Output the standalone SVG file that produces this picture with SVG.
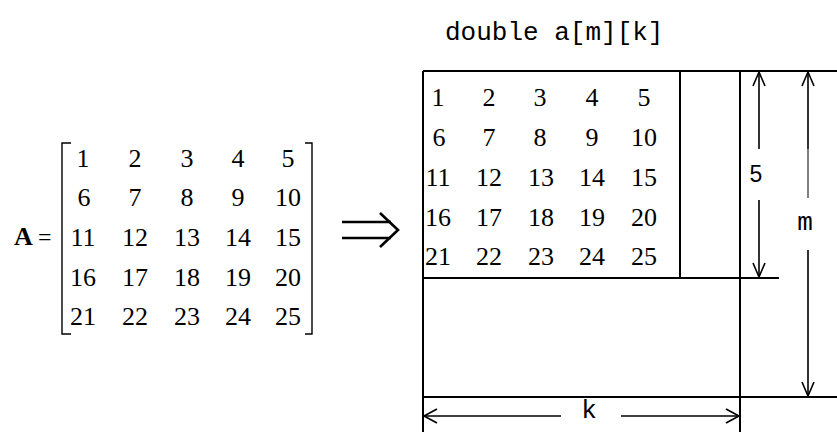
<svg xmlns="http://www.w3.org/2000/svg" width="837" height="432" viewBox="0 0 837 432">
  <style>
    .num { font-family: "Liberation Serif", "Times New Roman", serif; font-size: 26px; fill: #000; text-anchor: middle; }
    .mono { font-family: "Liberation Mono", "Courier New", monospace; font-size: 26px; fill: #000; }
    .sans { font-family: "Liberation Sans", Arial, sans-serif; font-size: 23px; fill: #000; }
    .ln { stroke: #000; stroke-width: 2; fill: none; }
    .dim { stroke: #000; stroke-width: 1.6; fill: none; }
    .thin { stroke: #000; stroke-width: 1; fill: none; }
    .brk { stroke: #000; stroke-width: 1.4; fill: none; }
  </style>
  <rect width="837" height="432" fill="#fff"/>

  <!-- Matrix A in bracket notation -->
  <g id="matrix-A">
    <text x="14" y="245" font-family="Liberation Serif, serif" font-size="26" font-weight="bold">A</text>
    <text x="38" y="245" font-family="Liberation Serif, serif" font-size="24">=</text>
    <path class="brk" d="M71,143 H62 V334 H71"/>
    <path class="brk" d="M305,143 H312 V334 H305"/>
    <g class="num">
      <text x="83" y="167">1</text><text x="135" y="167">2</text><text x="187" y="167">3</text><text x="238" y="167">4</text><text x="288" y="167">5</text>
      <text x="84" y="206">6</text><text x="135" y="206">7</text><text x="187" y="206">8</text><text x="238" y="206">9</text><text x="288" y="206">10</text>
      <text x="83" y="246">11</text><text x="135" y="246">12</text><text x="187" y="246">13</text><text x="238" y="246">14</text><text x="288" y="246">15</text>
      <text x="83" y="286">16</text><text x="135" y="286">17</text><text x="187" y="286">18</text><text x="238" y="286">19</text><text x="288" y="286">20</text>
      <text x="83" y="325">21</text><text x="135" y="325">22</text><text x="187" y="325">23</text><text x="238" y="325">24</text><text x="288" y="325">25</text>
    </g>
  </g>

  <!-- Implication arrow -->
  <g id="implies">
    <path d="M342,222 H391 M342,238 H391" stroke="#000" stroke-width="2.6" fill="none"/>
    <path d="M380,213 L398,230 L380,247" stroke="#000" stroke-width="2.6" fill="none"/>
  </g>

  <!-- Declaration label -->
  <g id="title">
    <text class="mono" x="445" y="40">double a[m][k]</text>
  </g>

  <!-- Storage array a[m][k] -->
  <g id="array">
    <path class="ln" d="M423,71 H837"/>
    <path class="ln" d="M423,71 V432"/>
    <path class="ln" d="M740,71 V432"/>
    <path class="ln" d="M680,71 V278"/>
    <path class="ln" d="M423,278 H779"/>
    <path class="ln" d="M423,397 H837"/>
    <g class="num">
      <text x="438" y="106">1</text><text x="489" y="106">2</text><text x="540" y="106">3</text><text x="592" y="106">4</text><text x="644" y="106">5</text>
      <text x="439" y="146">6</text><text x="489" y="146">7</text><text x="540" y="146">8</text><text x="592" y="146">9</text><text x="644" y="146">10</text>
      <text x="438" y="186">11</text><text x="489" y="186">12</text><text x="541" y="186">13</text><text x="592" y="186">14</text><text x="644" y="186">15</text>
      <text x="438" y="226">16</text><text x="489" y="226">17</text><text x="541" y="226">18</text><text x="592" y="226">19</text><text x="644" y="226">20</text>
      <text x="438" y="265">21</text><text x="489" y="265">22</text><text x="541" y="265">23</text><text x="592" y="265">24</text><text x="644" y="265">25</text>
    </g>
  </g>

  <!-- Dimension arrows -->
  <g id="connectors">
    <!-- rows used: 5 -->
    <path class="dim" d="M759,72 V149 M759,200 V277"/>
    <path class="dim" d="M753,86 L759,72 L765,86 M753,263 L759,277 L765,263"/>
    <!-- total rows: m -->
    <path class="dim" d="M808,72 V149 M808,250 V396"/>
    <path class="thin" d="M808,149 V198"/>
    <path class="dim" d="M802,86 L808,72 L814,86 M802,382 L808,396 L814,382"/>
    <!-- columns: k -->
    <path class="dim" d="M424,416 H561 M621,416 H739"/>
    <path class="dim" d="M437,409 L424,416 L437,423 M726,409 L739,416 L726,423"/>
  </g>

  <g id="labels">
    <text class="sans" x="756" y="182" text-anchor="middle">5</text>
    <text class="mono" x="805" y="230" text-anchor="middle">m</text>
    <text class="mono" x="589" y="418" text-anchor="middle">k</text>
  </g>
</svg>
